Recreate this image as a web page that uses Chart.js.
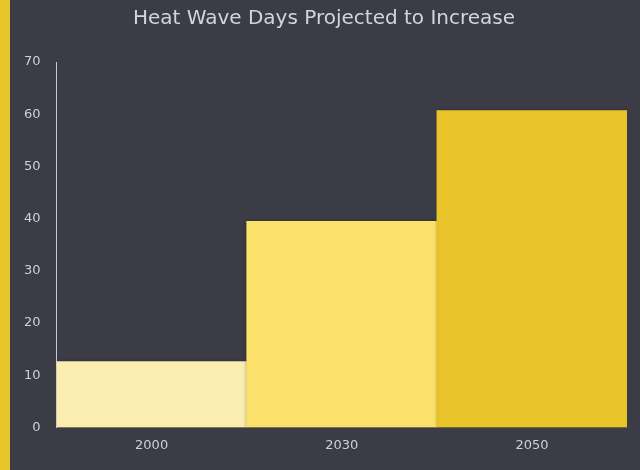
<!DOCTYPE html>
<html>
<head>
<meta charset="utf-8">
<script src="https://cdn.jsdelivr.net/npm/chart.js@4"></script>
<style>
    html, body { margin: 0; padding: 0; background: #3b3c45; }
    .wrap {
        width: 630px;
        height: 470px;
        border-left: 10px solid #e8c52a;
        background: #3b3c45;
    }
</style>
</head>
<body>
<div class="wrap">
    <canvas id="heat-chart" width="630" height="470"></canvas>
</div>
<script>
// Heat wave days by year
const years = ['2000', '2030', '2050'];
const heatWaveDays = [12.6, 39.5, 60.7];
const barColors = ['#fbedb0', '#fbe06a', '#e8c42a'];
const yTicks = { min: 0, max: 70, step: 10 };
const chartTitle = 'Heat Wave Days Projected to Increase';

// soft dark shadow behind the bars
const barShadow = {
    id: 'barShadow',
    beforeDatasetsDraw(chart) {
        const ctx = chart.ctx;
        ctx.save();
        ctx.shadowColor = 'rgba(0, 0, 0, 0.45)';
        ctx.shadowBlur = 4;
        ctx.shadowOffsetX = 1;
        ctx.shadowOffsetY = 1;
    },
    afterDatasetsDraw(chart) {
        chart.ctx.restore();
    }
};

// title centred on the whole canvas, not on the padded box
const centredTitle = {
    id: 'centredTitle',
    afterDraw(chart) {
        const ctx = chart.ctx;
        ctx.save();
        ctx.font = '20px "DejaVu Sans"';
        ctx.fillStyle = '#d4d4dc';
        ctx.textAlign = 'center';
        ctx.textBaseline = 'middle';
        ctx.fillText(chartTitle, chart.width / 2 - 1, 19);
        ctx.restore();
    }
};

const ctx = document.getElementById('heat-chart');
new Chart(ctx, {
    type: 'bar',
    data: {
        labels: years,
        datasets: [{
            label: 'Heat Wave Days',
            data: heatWaveDays,
            backgroundColor: barColors,
            borderWidth: 0,
            barPercentage: 1,
            categoryPercentage: 1
        }]
    },
    options: {
        responsive: false,
        animation: false,
        layout: {
            padding: { top: 62, right: 13, bottom: 7, left: -2 }
        },
        plugins: {
            legend: { display: false },
            tooltip: { enabled: false },
            title: { display: false }
        },
        scales: {
            y: {
                min: yTicks.min,
                max: yTicks.max,
                ticks: {
                    stepSize: yTicks.step,
                    color: '#d0d0d6',
                    padding: 16,
                    font: { family: 'DejaVu Sans', size: 13 }
                },
                grid: { display: false, drawTicks: false },
                border: { display: true, color: '#c8c8d2', width: 1 }
            },
            x: {
                ticks: {
                    color: '#d0d0d6',
                    padding: 10,
                    font: { family: 'DejaVu Sans', size: 13 }
                },
                grid: { display: false, drawTicks: false },
                border: { display: false }
            }
        }
    },
    plugins: [barShadow, centredTitle]
});
</script>
</body>
</html>
